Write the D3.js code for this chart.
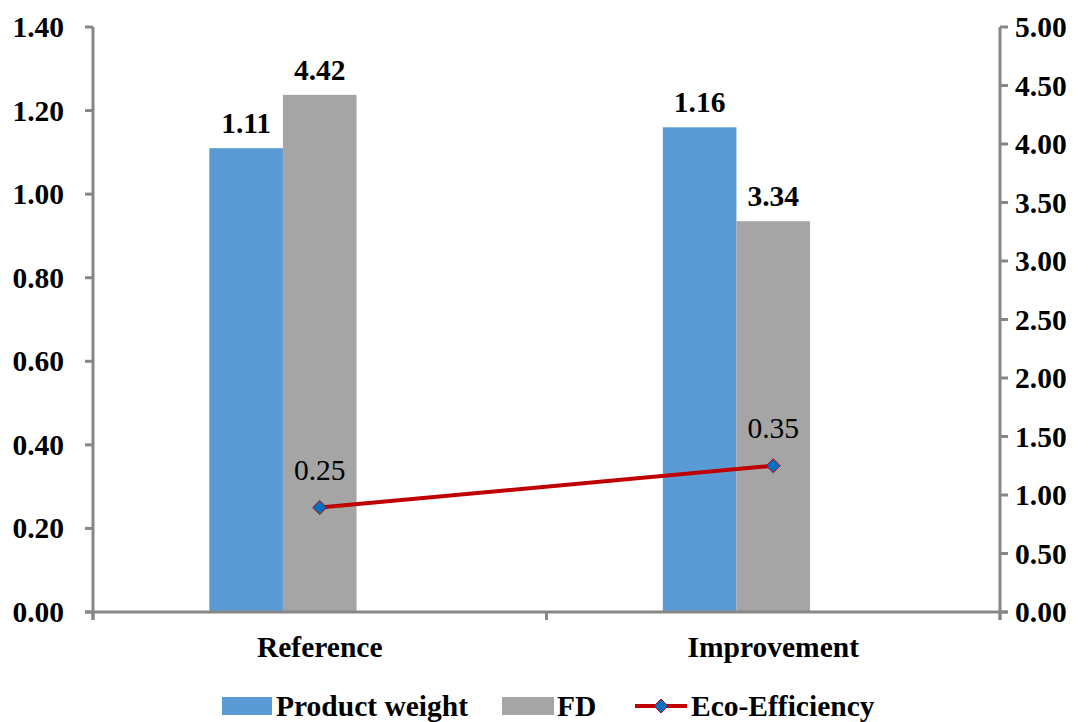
<!DOCTYPE html>
<html>
<head>
<meta charset="utf-8">
<script src="https://cdn.jsdelivr.net/npm/d3@7"></script>
<style>
  html, body { margin: 0; padding: 0; background: #fff; }
  svg { display: block; }
</style>
</head>
<body>
<svg id="chart" width="1089" height="722"></svg>
<script>
// Data
const categories = ["Reference", "Improvement"];
const productWeight = [1.11, 1.16];      // left axis
const fd = [4.42, 3.34];                  // right axis
const ecoEfficiency = [0.25, 0.35];       // left axis
const leftTicks = [0, 0.2, 0.4, 0.6, 0.8, 1.0, 1.2, 1.4];
const rightTicks = [0, 0.5, 1, 1.5, 2, 2.5, 3, 3.5, 4, 4.5, 5];
const seriesNames = ["Product weight", "FD", "Eco-Efficiency"];

// pick the first installed serif face
function hasFont(name) {
  const c = document.createElement("canvas").getContext("2d");
  const s = "abcdefghijklmnopqrstuvwxyz0123456789WMil";
  return ["monospace", "sans-serif"].some(fb => {
    c.font = `40px ${fb}`; const a = c.measureText(s).width;
    c.font = `40px "${name}", ${fb}`; const b = c.measureText(s).width;
    return a !== b;
  });
}
const serifFace = ["Liberation Serif", "Times New Roman", "Tinos", "DejaVu Serif Condensed", "DejaVu Serif", "Noto Serif"]
  .find(hasFont) || "serif";

const svg = d3.select("#chart").attr("font-family", `"${serifFace}", serif`);
const margin = { left: 93, right: 89, top: 27, bottom: 110 };
const W = 1089, H = 722;
const x0 = margin.left, x1 = W - margin.right;
const yTop = margin.top, yBot = H - margin.bottom;

const axisColor = "#878787";
const blue = "#5B9BD5", gray = "#A5A5A5", red = "#C00000", diamondFill = "#0070C0";
const FS = 29.5;

const x = d3.scaleBand().domain(categories).range([x0, x1]).paddingInner(0).paddingOuter(0);
const yL = d3.scaleLinear().domain([0, 1.4]).range([yBot, yTop]);
const yR = d3.scaleLinear().domain([0, 5]).range([yBot, yTop]);

// clustered slots: three per category, the line series occupies the third one
const slot = d3.scaleBand().domain([0, 1, 2]).range([0, x.bandwidth()]).paddingOuter(1.58).paddingInner(0);

// bars
const g = svg.append("g");
categories.forEach((c, i) => {
  const bx = x(c) + slot(0);
  g.append("rect").attr("x", bx).attr("width", slot.bandwidth())
    .attr("y", yL(productWeight[i])).attr("height", yBot - yL(productWeight[i])).attr("fill", blue);
  const gx = x(c) + slot(1);
  g.append("rect").attr("x", gx).attr("width", slot.bandwidth())
    .attr("y", yR(fd[i])).attr("height", yBot - yR(fd[i])).attr("fill", gray);

  g.append("text").attr("x", bx + slot.bandwidth() / 2).attr("y", yL(productWeight[i]) - 15)
    .attr("text-anchor", "middle").attr("font-size", FS).attr("font-weight", "bold")
    .text(productWeight[i].toFixed(2));
  g.append("text").attr("x", gx + slot.bandwidth() / 2).attr("y", yR(fd[i]) - 15)
    .attr("text-anchor", "middle").attr("font-size", FS).attr("font-weight", "bold")
    .text(fd[i].toFixed(2));
});

// axes
const axG = svg.append("g").attr("stroke", axisColor).attr("stroke-width", 3);
axG.append("line").attr("x1", x0).attr("x2", x0).attr("y1", yTop).attr("y2", yBot + 8);
axG.append("line").attr("x1", x1).attr("x2", x1).attr("y1", yTop).attr("y2", yBot + 8);
axG.append("line").attr("x1", x0 - 8).attr("x2", x1 + 8).attr("y1", yBot).attr("y2", yBot);
leftTicks.forEach(t => {
  axG.append("line").attr("x1", x0 - 8).attr("x2", x0).attr("y1", yL(t)).attr("y2", yL(t));
});
rightTicks.forEach(t => {
  axG.append("line").attr("x1", x1).attr("x2", x1 + 8).attr("y1", yR(t)).attr("y2", yR(t));
});
[x0, x0 + x.bandwidth(), x1].forEach(px => {
  axG.append("line").attr("x1", px).attr("x2", px).attr("y1", yBot).attr("y2", yBot + 8);
});

// tick labels
svg.append("g").selectAll("text").data(leftTicks).join("text")
  .attr("x", 64).attr("y", d => yL(d) + 10).attr("text-anchor", "end")
  .attr("font-size", FS).attr("font-weight", "bold").text(d => d.toFixed(2));
svg.append("g").selectAll("text").data(rightTicks).join("text")
  .attr("x", 1015).attr("y", d => yR(d) + 10).attr("text-anchor", "start")
  .attr("font-size", FS).attr("font-weight", "bold").text(d => d.toFixed(2));

// category labels
svg.append("g").selectAll("text").data(categories).join("text")
  .attr("x", d => x(d) + x.bandwidth() / 2).attr("y", 657).attr("text-anchor", "middle")
  .attr("font-size", FS).attr("font-weight", "bold").text(d => d);

// Eco-Efficiency line
const linePts = categories.map((c, i) => [x(c) + x.bandwidth() / 2, yL(ecoEfficiency[i])]);
svg.append("path").attr("d", d3.line()(linePts)).attr("fill", "none")
  .attr("stroke", red).attr("stroke-width", 4);
const diamond = d3.symbol().type(d3.symbolDiamond2).size(125);
linePts.forEach((p, i) => {
  svg.append("path").attr("d", diamond()).attr("transform", `translate(${p[0]},${p[1]})`)
    .attr("fill", diamondFill).attr("stroke", red).attr("stroke-width", 1);
  svg.append("text").attr("x", p[0]).attr("y", p[1] - 28).attr("text-anchor", "middle")
    .attr("font-size", FS).text(ecoEfficiency[i].toFixed(2));
});

// legend
const lg = svg.append("g");
const ly = 706;
lg.append("rect").attr("x", 222).attr("y", ly - 9).attr("width", 50).attr("height", 18).attr("fill", blue);
lg.append("text").attr("x", 276).attr("y", ly + 10).attr("font-size", FS).attr("font-weight", "bold").text(seriesNames[0]);
lg.append("rect").attr("x", 502).attr("y", ly - 9).attr("width", 52).attr("height", 18).attr("fill", gray);
lg.append("text").attr("x", 557).attr("y", ly + 10).attr("font-size", FS).attr("font-weight", "bold").text(seriesNames[1]);
lg.append("line").attr("x1", 635).attr("x2", 687).attr("y1", ly).attr("y2", ly).attr("stroke", red).attr("stroke-width", 4);
lg.append("path").attr("d", diamond()).attr("transform", `translate(661,${ly})`)
  .attr("fill", diamondFill).attr("stroke", red).attr("stroke-width", 1);
lg.append("text").attr("x", 691).attr("y", ly + 10).attr("font-size", FS).attr("font-weight", "bold").text(seriesNames[2]);
</script>
</body>
</html>
